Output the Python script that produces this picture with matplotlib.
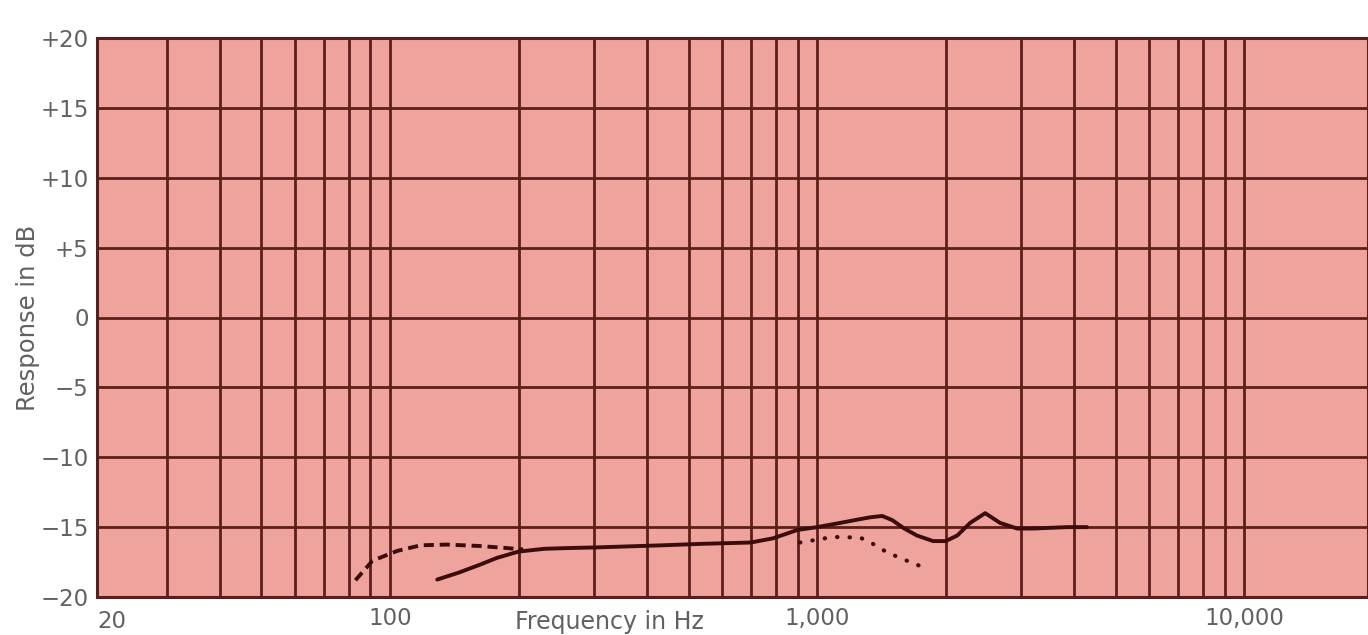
import matplotlib
matplotlib.use("Agg")
import matplotlib.pyplot as plt
import matplotlib.transforms as mtransforms

# frequency response curves (Hz, dB)
solid_f = [129, 145, 162, 178, 200, 230, 260, 305, 435, 532, 700, 789, 900, 1000, 1132,
           1250, 1330, 1420, 1500, 1600, 1713, 1870, 2000, 2130, 2282, 2475, 2683, 2940,
           3206, 3846, 4286]
solid_db = [-18.75, -18.25, -17.7, -17.2, -16.75, -16.55, -16.5, -16.45, -16.3, -16.2,
            -16.1, -15.8, -15.2, -15.0, -14.7, -14.45, -14.3, -14.2, -14.5, -15.1, -15.6,
            -16.0, -16.0, -15.6, -14.7, -14.0, -14.7, -15.1, -15.1, -15.0, -15.0]

dashed_f = [83, 91, 104, 118, 136, 162, 188, 205]
dashed_db = [-18.8, -17.4, -16.7, -16.3, -16.25, -16.35, -16.5, -16.6]

dotted_f = [912, 1000, 1089, 1262, 1352, 1457, 1564, 1713, 1800]
dotted_db = [-16.1, -15.9, -15.7, -15.75, -16.2, -16.8, -17.2, -17.7, -17.9]

# axis ticks
x_major = [100, 1000, 10000]
x_major_labels = ["100", "1,000", "10,000"]
x_minor = [30, 40, 50, 60, 70, 80, 90, 200, 300, 400, 500, 600, 700, 800, 900,
           2000, 3000, 4000, 5000, 6000, 7000, 8000, 9000]
y_ticks = [20, 15, 10, 5, 0, -5, -10, -15, -20]
y_labels = ["+20", "+15", "+10", "+5", "0", "\u22125", "\u221210", "\u221215", "\u221220"]

bg = "#efa39d"
grid_c = "#5c1e1a"
text_c = "#616161"
plt.rcParams["font.family"] = ["DejaVu Sans"]
fs = 16.5

fig = plt.figure(figsize=(13.68, 6.35), dpi=100)
ax = fig.add_axes([97 / 1368, 1 - 597 / 635, 1 - 97 / 1368, (597 - 38) / 635])
ax.set_facecolor(bg)

ax.set_xscale("log")
ax.set_xlim(20.6, 19500)
ax.set_ylim(-20, 20)

ax.set_xticks(x_major)
ax.set_xticklabels(x_major_labels)
ax.set_xticks(x_minor, minor=True)
ax.set_xticklabels([], minor=True)
ax.set_yticks(y_ticks)
ax.set_yticklabels(y_labels)

ax.grid(True, which="both", color=grid_c, linewidth=2.0)
ax.set_axisbelow(True)
ax.tick_params(which="both", length=0, colors=text_c, labelsize=fs)
ax.tick_params(axis="x", pad=7)
ax.tick_params(axis="y", pad=6)

for s in ax.spines.values():
    s.set_color(grid_c)
    s.set_linewidth(2.2)

ax.plot(solid_f, solid_db, color="#3a0d0a", linewidth=2.8, solid_capstyle="round",
        solid_joinstyle="round")
ax.plot(dashed_f, dashed_db, color="#3a0d0a", linewidth=2.8, linestyle=(0, (2.6, 1.5)))
ax.plot(dotted_f, dotted_db, color="#3a0d0a", linewidth=3.0, linestyle=(0, (0.1, 2.9)),
        dash_capstyle="round")

ax.set_ylabel("Response in dB", color=text_c, fontsize=fs + 1, labelpad=0)
trans = mtransforms.blended_transform_factory(ax.transData, ax.transAxes)
ax.text(0, -0.044, "20", transform=ax.transAxes, ha="left", va="center",
        color=text_c, fontsize=fs)
ax.text(327, -0.044, "Frequency in Hz", transform=trans, ha="center", va="center",
        color=text_c, fontsize=fs + 0.5)

fig.savefig("out.png", dpi=100, facecolor="white")
